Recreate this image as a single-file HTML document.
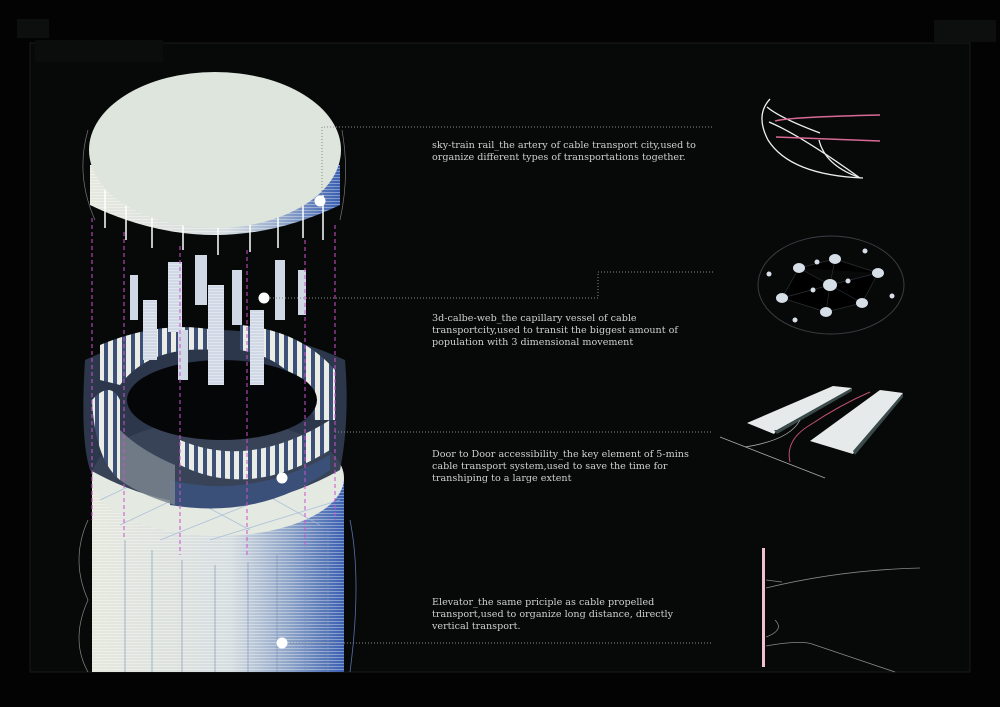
<!DOCTYPE html>
<html><head><meta charset="utf-8"><style>
html,body{margin:0;padding:0;background:#030303;}
svg{display:block}
text{font-family:"DejaVu Serif","Liberation Serif",serif;font-size:9.6px;fill:#d0d0d0;}
</style></head><body>
<svg width="1000" height="707" viewBox="0 0 1000 707" xmlns="http://www.w3.org/2000/svg">
<defs>
<linearGradient id="side" x1="0" x2="1" y1="0" y2="0">
<stop offset="0" stop-color="#e6e8de"/><stop offset="0.55" stop-color="#d6dde0"/><stop offset="0.78" stop-color="#8ea4c8"/><stop offset="1" stop-color="#3a5fb0"/>
</linearGradient>
<pattern id="hl" width="4" height="3" patternUnits="userSpaceOnUse"><rect width="4" height="1" fill="#ffffff" opacity="0.35"/></pattern>
<pattern id="fins" width="9" height="10" patternUnits="userSpaceOnUse"><rect width="5" height="10" fill="#e9ede6"/><rect x="5" width="4" height="10" fill="#3d5178"/></pattern>
</defs>
<rect width="1000" height="707" fill="#030303"/>
<rect x="30" y="43" width="940" height="629" fill="#070808" stroke="#1a1a1a" stroke-width="1"/>
<rect x="17" y="19" width="32" height="19" fill="#0d0e0e"/>
<rect x="35" y="40" width="128" height="22" fill="#0b0c0c"/>
<rect x="934" y="20" width="62" height="22" fill="#0d0e0e"/>

<!-- lower cylinder -->
<path d="M92 478 L92 672 L344 672 L344 478 Z" fill="url(#side)"/>
<path d="M92 478 L92 672 L344 672 L344 478 Z" fill="url(#hl)"/>
<g stroke="#7f94b8" stroke-width="0.8" opacity="0.8">
<line x1="125" y1="540" x2="125" y2="672"/><line x1="152" y1="550" x2="152" y2="672"/><line x1="182" y1="560" x2="182" y2="672"/><line x1="215" y1="565" x2="215" y2="672"/><line x1="248" y1="562" x2="248" y2="672"/><line x1="277" y1="555" x2="277" y2="672"/><line x1="305" y1="545" x2="305" y2="672"/><line x1="328" y1="530" x2="328" y2="672"/>
</g>
<ellipse cx="218" cy="478" rx="126" ry="58" fill="#e4e9e2"/>
<g stroke="#9fb6d6" stroke-width="0.8" fill="none" opacity="0.8">
<path d="M100 500 L250 430 M120 525 L300 440 M160 540 L335 470 M210 540 L340 500"/>
<path d="M110 455 L250 530 M150 430 L320 525"/>
</g>
<path d="M88 520 Q70 560 88 600 Q70 640 88 672" stroke="#888" fill="none" stroke-width="0.7"/>
<path d="M350 520 Q362 580 350 672" stroke="#5870a8" fill="none" stroke-width="0.8"/>

<!-- ring -->
<path d="M85 360 Q80 440 90 470 Q215 540 340 470 Q350 420 345 360 Q215 300 85 360 Z" fill="#2e3a50" opacity="0.95"/>
<path d="M92 400 Q95 460 120 480 L120 400 Q110 380 92 400Z" fill="url(#fins)"/>
<path d="M180 465 Q250 500 330 450 L330 420 Q250 470 180 440 Z" fill="url(#fins)"/>
<path d="M170 505 L170 480 Q250 500 330 455 L330 470 Q260 520 170 505Z" fill="#3b5078"/>
<path d="M100 345 Q160 320 215 330 L215 350 Q150 345 120 385 L100 380Z" fill="url(#fins)"/>
<path d="M240 325 Q300 330 335 370 L335 420 L315 420 Q300 360 240 350Z" fill="url(#fins)"/>
<ellipse cx="222" cy="400" rx="95" ry="40" fill="#050608"/>
<path d="M120 480 L120 430 Q140 450 175 465 L175 505 Q140 495 120 480Z" fill="#7a828e" opacity="0.85"/>

<!-- cylinders cluster -->
<g fill="#cfd8e4">
<rect x="143" y="300" width="14" height="60"/><rect x="168" y="262" width="14" height="70"/><rect x="208" y="285" width="16" height="100"/><rect x="250" y="310" width="14" height="75"/><rect x="195" y="255" width="12" height="50"/><rect x="232" y="270" width="10" height="55"/><rect x="275" y="260" width="10" height="60"/><rect x="130" y="275" width="8" height="45"/><rect x="298" y="270" width="8" height="45"/><rect x="178" y="330" width="10" height="50"/>
</g>
<g fill="url(#hl)">
<rect x="143" y="300" width="14" height="60"/><rect x="168" y="262" width="14" height="70"/><rect x="208" y="285" width="16" height="100"/><rect x="250" y="310" width="14" height="75"/>
</g>

<!-- top disc -->
<path d="M90 165 L90 205 Q215 265 340 205 L340 165 Z" fill="url(#side)"/>
<path d="M90 165 L90 205 Q215 265 340 205 L340 165 Z" fill="url(#hl)"/>
<g stroke="#fff" stroke-width="1.5"><line x1="105" y1="190" x2="105" y2="228"/><line x1="126" y1="200" x2="126" y2="240"/><line x1="152" y1="210" x2="152" y2="248"/><line x1="183" y1="218" x2="183" y2="250"/><line x1="218" y1="222" x2="218" y2="255"/><line x1="250" y1="220" x2="250" y2="252"/><line x1="278" y1="214" x2="278" y2="248"/><line x1="303" y1="205" x2="303" y2="238"/><line x1="323" y1="195" x2="323" y2="240"/></g>
<ellipse cx="215" cy="150" rx="126" ry="78" fill="#dde5dc"/>
<path d="M88 130 Q75 175 95 220 M342 130 Q350 175 340 220" stroke="#777" fill="none" stroke-width="0.7"/>

<!-- magenta dashed -->
<g stroke="#d050d0" stroke-width="1" stroke-dasharray="4,3">
<line x1="92" y1="218" x2="92" y2="520"/><line x1="124" y1="232" x2="124" y2="540"/><line x1="180" y1="246" x2="180" y2="555"/><line x1="247" y1="250" x2="247" y2="555"/><line x1="305" y1="240" x2="305" y2="545"/><line x1="335" y1="225" x2="335" y2="520"/>
</g>

<!-- connectors -->
<g stroke="#8a8a8a" stroke-width="1" stroke-dasharray="1,2" fill="none">
<polyline points="322,200 322,127 712,127"/>
<polyline points="270,298 598,298 598,272 714,272"/>
<line x1="335" y1="432" x2="712" y2="432"/>
<line x1="290" y1="643" x2="712" y2="643"/>
</g>
<g fill="#fff"><circle cx="320" cy="201" r="5.5"/><circle cx="264" cy="298" r="5.5"/><circle cx="282" cy="478" r="5.5"/><circle cx="282" cy="643" r="5.5"/></g>

<!-- texts -->
<text x="432" y="148">sky-train rail_the artery of cable transport city,used to</text>
<text x="432" y="160">organize different types of transportations together.</text>
<text x="432" y="321">3d-calbe-web_the capillary vessel of cable</text>
<text x="432" y="333">transportcity,used to transit the biggest amount of</text>
<text x="432" y="345">population with 3 dimensional movement</text>
<text x="432" y="457">Door to Door accessibility_the key element of 5-mins</text>
<text x="432" y="469">cable transport system,used to save the time for</text>
<text x="432" y="481">transhiping to a large extent</text>
<text x="432" y="605">Elevator_the same priciple as cable propelled</text>
<text x="432" y="617">transport,used to organize long distance, directly</text>
<text x="432" y="629">vertical transport.</text>

<!-- sky-train -->
<g fill="none" stroke="#eee" stroke-width="1.3">
<path d="M770 99 Q755 115 768 140 Q790 175 863 178"/>
<path d="M767 107 Q780 118 820 133"/>
<path d="M769 122 Q800 135 860 178"/>
<path d="M819 140 Q825 165 858 177"/>
</g>
<g stroke="#d76a95" stroke-width="1.4" fill="none"><path d="M775 121 Q790 117 880 115"/><path d="M776 137 L880 141"/></g>

<!-- network -->
<ellipse cx="831" cy="285" rx="73" ry="49" fill="none" stroke="#3a3d42" stroke-width="1"/>
<g stroke="#2c2f33" stroke-width="0.7"><path d="M799 268 L835 259 L878 273 L862 303 L826 312 L782 298 Z M799 268 L830 285 L878 273 M782 298 L830 285 L862 303 M835 259 L830 285 L826 312"/></g>
<g fill="#d6dee8"><ellipse cx="799" cy="268" rx="6" ry="5"/><ellipse cx="835" cy="259" rx="6" ry="5"/><ellipse cx="878" cy="273" rx="6" ry="5"/><ellipse cx="830" cy="285" rx="7" ry="6"/><ellipse cx="782" cy="298" rx="6" ry="5"/><ellipse cx="862" cy="303" rx="6" ry="5"/><ellipse cx="826" cy="312" rx="6" ry="5"/>
<circle cx="769" cy="274" r="2.5"/><circle cx="817" cy="262" r="2.5"/><circle cx="865" cy="251" r="2.5"/><circle cx="813" cy="290" r="2.5"/><circle cx="848" cy="281" r="2.5"/><circle cx="892" cy="296" r="2.5"/><circle cx="795" cy="320" r="2.5"/></g>

<!-- rails -->
<polygon points="747,423 833,386 852,388 777,430 774,434" fill="#e6eaea"/>
<polygon points="810,441 880,390 903,393 855,451 853,454" fill="#e6eaea"/>
<polygon points="774,430 777,430 852,388 852,391 777,434" fill="#3b4a4a"/>
<polygon points="853,451 903,393 903,397 855,455" fill="#3b4a4a"/>
<g stroke="#aaa" stroke-width="0.8" fill="none"><line x1="720" y1="437" x2="825" y2="478"/><path d="M745 447 Q790 440 800 420"/></g>
<path d="M790 462 Q785 440 810 425 Q840 405 870 392" stroke="#c05070" fill="none" stroke-width="1"/>

<!-- elevator -->
<rect x="762" y="548" width="3" height="119" fill="#f0c0d0"/>
<g stroke="#888" stroke-width="0.8" fill="none">
<path d="M766 588 Q840 570 920 568"/><path d="M766 580 L782 582"/><path d="M766 646 Q800 640 812 644 L895 672"/><path d="M766 637 Q785 630 775 620"/>
</g>
</svg>
</body></html>
